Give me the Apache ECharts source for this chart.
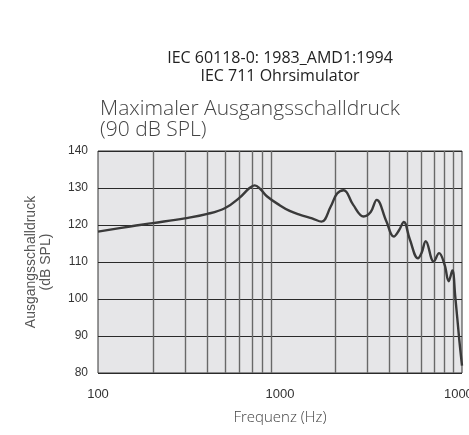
<!DOCTYPE html>
<html>
<head>
<meta charset="utf-8">
<script src="https://cdn.jsdelivr.net/npm/echarts@6/dist/echarts.min.js"></script>
<style>
  html, body { margin: 0; padding: 0; background: #fff; }
  #chart { width: 469px; height: 435px; }
</style>
</head>
<body>
<div id="chart"></div>
<script>
// Frequenzgang
var freqs = [100, 150, 200, 300, 400, 500, 600, 680, 726, 780, 850, 1000, 1130, 1280, 1500, 1690, 1900, 2060, 2240, 2520, 2880, 3150, 3400, 3840, 4220, 4500, 4790, 5160, 5730, 6000, 6320, 6990, 7480, 8030, 8450, 8850, 9170, 9660, 10000];
var spl = [118.2, 119.6, 120.5, 121.8, 123.0, 124.6, 127.4, 130.0, 130.7, 129.7, 127.7, 125.3, 123.8, 122.8, 121.8, 120.9, 125.0, 128.5, 129.4, 125.5, 122.3, 123.5, 126.8, 121.0, 116.9, 118.5, 120.8, 116.2, 111.0, 112.5, 115.6, 110.1, 112.4, 109.2, 104.8, 107.7, 101.0, 89.0, 82.0];
var minorFreqs = [200, 300, 400, 500, 600, 700, 800, 900, 2000, 3000, 4000, 5000, 6000, 7000, 8000, 9000];
var yTicks = [80, 90, 100, 110, 120, 130, 140];

var chart = echarts.init(document.getElementById('chart'));

var option = {
  animation: false,
  title: [
    {
      text: 'IEC 60118-0: 1983_AMD1:1994\nIEC 711 Ohrsimulator',
      left: 275,
      top: 44,
      textAlign: 'center',
      textStyle: {
        fontFamily: 'Open Sans',
        fontSize: 16,
        fontWeight: 'normal',
        color: '#222',
        lineHeight: 18
      }
    },
    {
      text: 'Maximaler Ausgangsschalldruck\n(90 dB SPL)',
      left: 95,
      top: 94,
      textStyle: {
        fontFamily: 'Open Sans',
        fontSize: 21,
        fontWeight: 300,
        color: '#444',
        lineHeight: 21
      }
    }
  ],
  grid: {
    left: 98,
    top: 151,
    width: 364,
    height: 222,
    outerBoundsMode: 'none',
    show: true,
    backgroundColor: '#e6e6e8',
    borderColor: '#333',
    borderWidth: 1
  },
  xAxis: {
    type: 'log',
    logBase: 10,
    min: 100,
    max: 10000,
    name: 'Frequenz (Hz)',
    nameLocation: 'middle',
    nameGap: 37,
    nameTextStyle: { fontFamily: 'Open Sans', fontSize: 15, fontWeight: 300, color: '#444' },
    axisLine: { show: false },
    axisTick: { show: false },
    axisLabel: {
      fontFamily: 'Liberation Sans', fontSize: 13, color: '#333', margin: 15,
      formatter: function (v) { return String(Math.round(v)); }
    },
    splitLine: { show: false }
  },
  yAxis: {
    type: 'value',
    min: yTicks[0],
    max: yTicks[yTicks.length - 1],
    interval: 10,
    name: 'Ausgangsschalldruck\n(dB SPL)',
    nameLocation: 'middle',
    nameGap: 44,
    nameTextStyle: { fontFamily: 'Liberation Sans', fontSize: 14, color: '#555', lineHeight: 15 },
    axisLine: { show: false },
    axisTick: { show: false },
    axisLabel: { fontFamily: 'Liberation Sans', fontSize: 12, color: '#333', margin: 10 },
    splitLine: { show: true, lineStyle: { color: '#2a2a2a', width: 1 } }
  },
  series: [
    {
      type: 'line',
      data: freqs.map(function (f, i) { return [f, spl[i]]; }),
      smooth: 0.4,
      symbol: 'none',
      lineStyle: { color: '#3a3a3a', width: 2.4 },
      z: 5,
      markLine: {
        silent: true,
        symbol: 'none',
        label: { show: false },
        lineStyle: { color: '#686868', width: 1.4, type: 'solid' },
        data: minorFreqs.map(function (f) { return { xAxis: f }; })
      }
    }
  ]
};

chart.setOption(option);
</script>
</body>
</html>
